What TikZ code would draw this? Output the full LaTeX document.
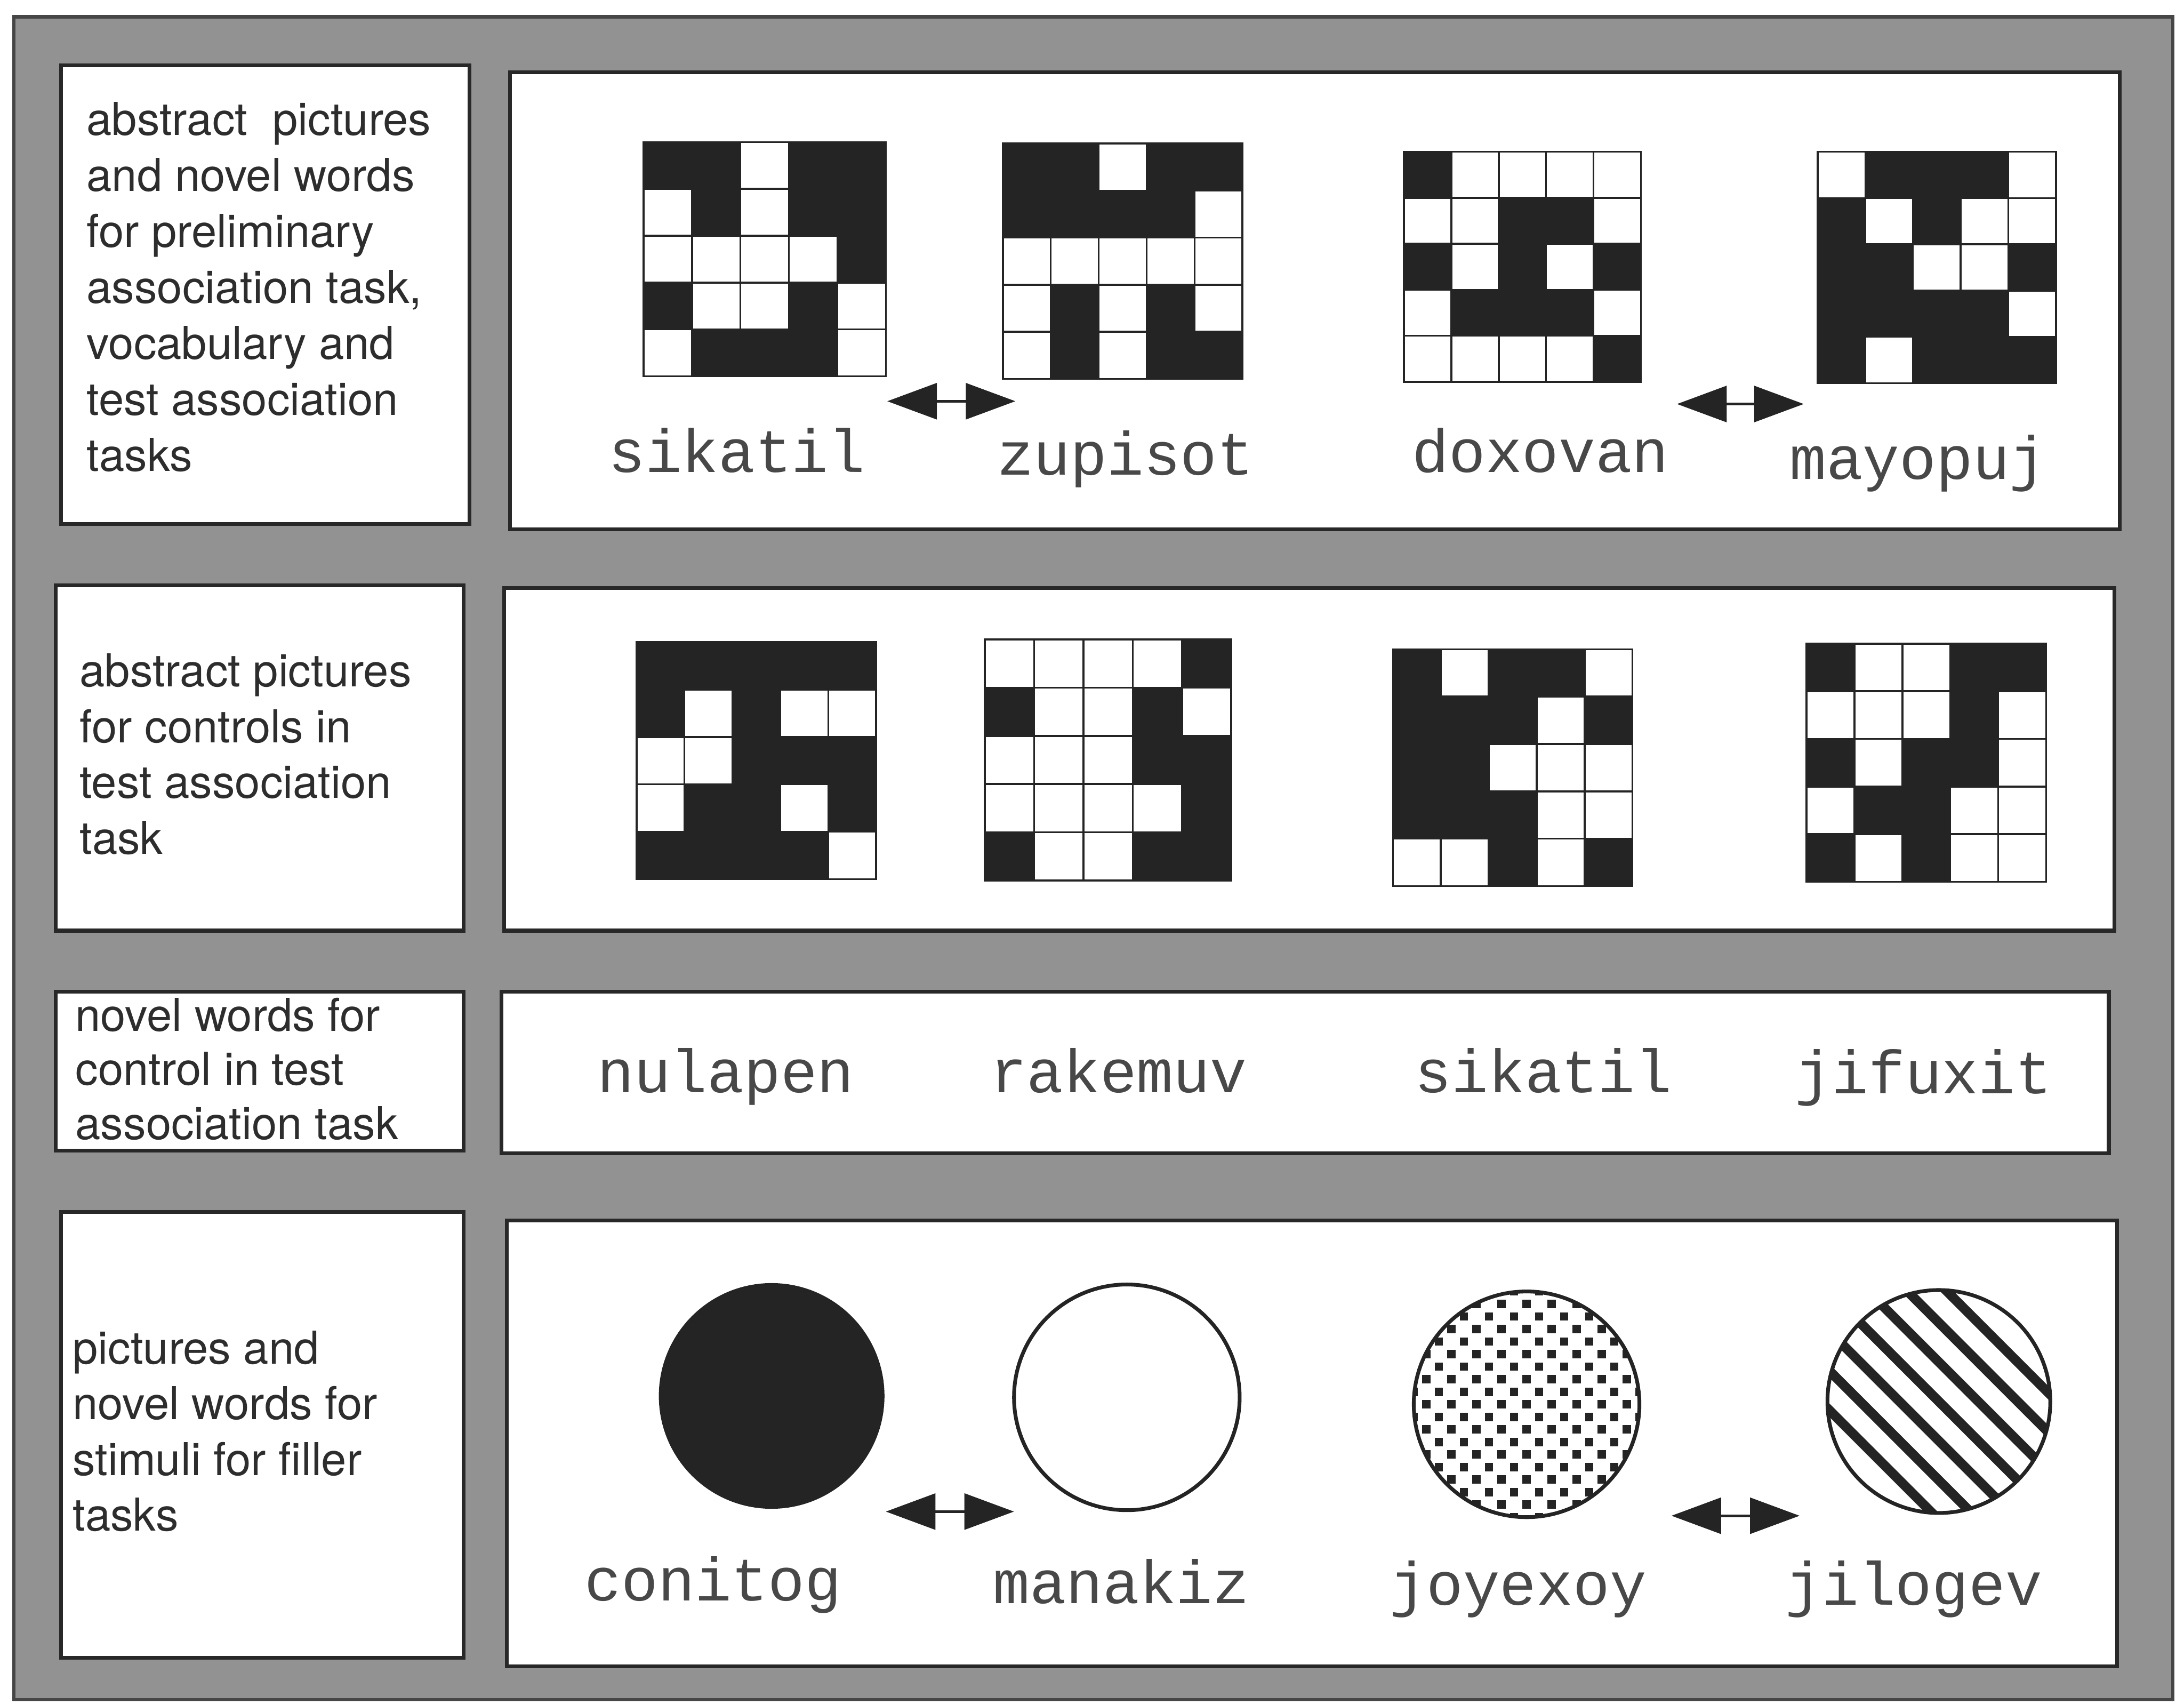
\documentclass[tikz,border=0pt]{standalone}
\usepackage{fontspec}
\setmainfont{TeX Gyre Heros}
\newfontfamily\monof{Liberation Mono}
\usetikzlibrary{arrows.meta,calc}
\definecolor{bggray}{RGB}{146,146,146}
\definecolor{framecol}{RGB}{70,70,70}
\definecolor{boxline}{RGB}{40,40,40}
\definecolor{inkcol}{RGB}{36,36,36}
\definecolor{txtcol}{RGB}{45,45,45}
\definecolor{wordcol}{RGB}{72,72,72}
\tikzset{
  panel/.style={draw=boxline, fill=white, line width=2.2pt},
  gridline/.style={draw=inkcol, line width=1.1pt},
  lbl/.style={anchor=base west, inner sep=0pt, font=\fontsize{26.5}{32}\selectfont, text=txtcol},
  word/.style={anchor=base, inner sep=0pt, font=\monof\fontsize{35.7}{40}\selectfont, text=wordcol},
  dblarrow/.style={draw=inkcol, line width=1.6pt, {Triangle[length=29pt,width=21pt]}-{Triangle[length=29pt,width=21pt]}},
  ringline/.style={draw=inkcol, line width=2.2pt}
}
\newcommand\drawgrid[5]{%
  \pgfmathsetmacro\mygw{(#3-#1)/5}%
  \pgfmathsetmacro\mygh{(#4-#2)/5}%
  \fill[white] (#1,#2) rectangle (#3,#4);
  \foreach \row [count=\r from 0] in {#5} {
    \foreach \cv [count=\k from 0] in \row {
      \ifnum\cv=1
        \fill[inkcol] ({#1+\k*\mygw},{#2+\r*\mygh}) rectangle ({#1+(\k+1)*\mygw},{#2+(\r+1)*\mygh});
      \fi
    }
  }
  \foreach \i in {1,...,4} {
    \draw[gridline] ({#1+\i*\mygw},#2) -- ({#1+\i*\mygw},#4);
    \draw[gridline] (#1,{#2+\i*\mygh}) -- (#3,{#2+\i*\mygh});
  }
  \draw[gridline] (#1,#2) rectangle (#3,#4);
}
\begin{document}
\begin{tikzpicture}[x={(0.028616cm,0)}, y={(0,-0.028616cm)}]
\useasboundingbox (0,0) rectangle (1568,1223.8);
\fill[white] (0,0) rectangle (1568,1223.8);
\draw[draw=framecol, fill=bggray, line width=2pt] (10,12) rectangle (1560,1220);

% panels
\draw[panel] (44,47) rectangle (337,376);
\draw[panel] (366,52) rectangle (1522,380);
\draw[panel] (40,420) rectangle (333,668);
\draw[panel] (362,422) rectangle (1518,668);
\draw[panel] (40,712) rectangle (333,826);
\draw[panel] (360,712) rectangle (1514,828);
\draw[panel] (44,870) rectangle (333,1190);
\draw[panel] (364,876) rectangle (1520,1196);

% left labels
\foreach \t [count=\i] in {abstract\ \ pictures, and novel words, for preliminary, {association task,}, vocabulary and, test association, tasks}
  \node[lbl] (ta\i) at (62,{97+40.2*(\i-1)}) {\t};
\foreach \t [count=\i] in {abstract pictures, for controls in, test association, task}
  \node[lbl] (tb\i) at (57,{493+40*(\i-1)}) {\t};
\foreach \t [count=\i] in {novel words for, control in test, association task}
  \node[lbl] (tc\i) at (54,{740+39*(\i-1)}) {\t};
\foreach \t [count=\i] in {pictures and, novel words for, stimuli for filler, tasks}
  \node[lbl] (td\i) at (52,{979+40*(\i-1)}) {\t};

% grids row 1
\drawgrid{462}{102}{636}{270}{{1,1,0,1,1},{0,1,0,1,1},{0,0,0,0,1},{1,0,0,1,0},{0,1,1,1,0}}
\drawgrid{720}{103}{892}{272}{{1,1,0,1,1},{1,1,1,1,0},{0,0,0,0,0},{0,1,0,1,0},{0,1,0,1,1}}
\drawgrid{1008}{109}{1178}{274}{{1,0,0,0,0},{0,0,1,1,0},{1,0,1,0,1},{0,1,1,1,0},{0,0,0,0,1}}
\drawgrid{1305}{109}{1476}{275}{{0,1,1,1,0},{1,0,1,0,0},{1,1,0,0,1},{1,1,1,1,0},{1,0,1,1,1}}
% grids row 2
\drawgrid{457}{461}{629}{631}{{1,1,1,1,1},{1,0,1,0,0},{0,0,1,1,1},{0,1,1,0,1},{1,1,1,1,0}}
\drawgrid{707}{459}{884}{632}{{0,0,0,0,1},{1,0,0,1,0},{0,0,0,1,1},{0,0,0,0,1},{1,0,0,1,1}}
\drawgrid{1000}{466}{1172}{636}{{1,0,1,1,0},{1,1,1,0,1},{1,1,0,0,0},{1,1,1,0,0},{0,0,1,0,1}}
\drawgrid{1297}{462}{1469}{633}{{1,0,0,1,1},{0,0,0,1,0},{1,0,1,1,0},{0,1,1,0,0},{1,0,1,0,0}}

% words
\node[word] (w1) at (529,339) {sikatil};
\node[word] (w2) at (808,341) {zupisot};
\node[word] (w3) at (1106,339) {doxovan};
\node[word] (w4) at (1377,344) {mayopuj};
\node[word] (w5) at (521,784) {nulapen};
\node[word] (w6) at (803,784) {rakemuv};
\node[word] (w7) at (1108,784) {sikatil};
\node[word] (w8) at (1381,785) {jifuxit};
\node[word] (w9) at (512,1149) {conitog};
\node[word] (w10) at (805,1151) {manakiz};
\node[word] (w11) at (1090,1152) {joyexoy};
\node[word] (w12) at (1374,1152) {jilogev};

% arrows
\coordinate (a1l) at (637,288); \coordinate (a1r) at (729,288);
\coordinate (a2l) at (1204,290); \coordinate (a2r) at (1295,290);
\coordinate (a3l) at (636,1085); \coordinate (a3r) at (728,1085);
\coordinate (a4l) at (1200,1088); \coordinate (a4r) at (1292,1088);
\draw[dblarrow] (a1l) -- (a1r);
\draw[dblarrow] (a2l) -- (a2r);
\draw[dblarrow] (a3l) -- (a3r);
\draw[dblarrow] (a4l) -- (a4r);

% circles
\coordinate (c1) at (554,1002);
\coordinate (c2) at (809,1003);
\coordinate (c3) at (1096,1008);
\coordinate (c4) at (1392,1006);
\fill[inkcol] (c1) circle[radius=81];
\draw[ringline, fill=white] (c2) circle[radius=81];
% dotted circle
\fill[white] (c3) circle[radius=81];
\begin{scope}
  \clip (c3) circle[radius=81];
  \foreach \r in {-10,...,10} {
    \foreach \c in {-5,...,5} {
      \pgfmathsetmacro\xx{\c*18 + mod(abs(\r),2)*9}
      \fill[inkcol] ($(c3)+(\xx-3,\r*9-3)$) rectangle ++(6,6);
    }
  }
\end{scope}
\draw[ringline] (c3) circle[radius=81];
% striped circle
\fill[white] (c4) circle[radius=80];
\begin{scope}
  \clip (c4) circle[radius=80];
  \foreach \k in {-3,...,3} {
    \draw[inkcol, line width=5.6pt] ($(c4)+(\k*14.14-80,-\k*14.14-80)$) -- ($(c4)+(\k*14.14+80,-\k*14.14+80)$);
  }
\end{scope}
\draw[ringline] (c4) circle[radius=80];
\end{tikzpicture}
\end{document}
